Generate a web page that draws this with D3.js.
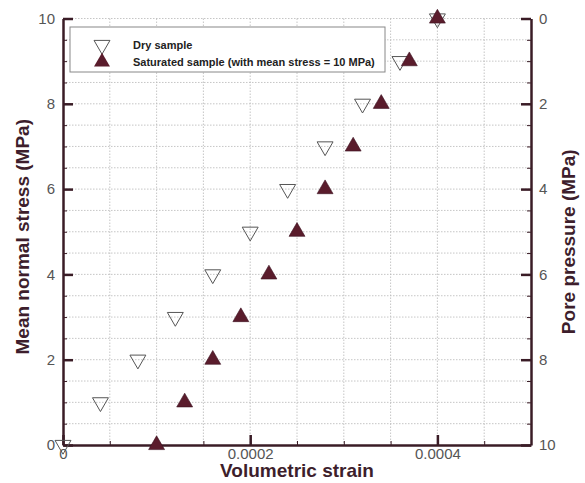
<!DOCTYPE html>
<meta charset="utf-8">
<style>
body { margin: 0; background: #fff; }
.grid line { stroke: #b8b8b8; stroke-width: 0.8; stroke-dasharray: 1.5,1.5; }
.tick text { font-family: "Liberation Sans", Arial, sans-serif; font-size: 15px; fill: #555; }
.axis path, .axis line { stroke: #3a1c26; }
.lab { font-family: "Liberation Sans", Arial, sans-serif; font-weight: bold; font-size: 19px; fill: #3d1e2c; }
.leg { font-family: "Liberation Sans", Arial, sans-serif; font-weight: bold; font-size: 11px; fill: #222; }
</style>
<svg width="585" height="483"></svg>
<script src="https://d3js.org/d3.v7.min.js"></script>
<script>

// mean normal stress (MPa)
var stress = [0, 1, 2, 3, 4, 5, 6, 7, 8, 9, 10];
// volumetric strain
var dryStrain = [0, 0.00004, 0.00008, 0.00012, 0.00016, 0.0002, 0.00024, 0.00028, 0.00032, 0.00036, 0.0004];
var satStrain = [0.0001, 0.00013, 0.00016, 0.00019, 0.00022, 0.00025, 0.00028, 0.00031, 0.00034, 0.00037, 0.0004];
var xTicks = [0, 0.0002, 0.0004];
var yTicks = [0, 2, 4, 6, 8, 10];
var legendLabels = ["Dry sample", "Saturated sample (with mean stress =  10 MPa)"];

var svg = d3.select("svg"),
    margin = {top: 18.5, right: 54, bottom: 38, left: 63},
    width = 585 - margin.left - margin.right,
    height = 483 - margin.top - margin.bottom;

var x = d3.scaleLinear().domain([0, 0.0005]).range([0, width]),
    y = d3.scaleLinear().domain([0, 10]).range([height, 0]),
    yp = d3.scaleLinear().domain([0, 10]).range([0, height]);

var g = svg.append("g")
    .attr("transform", "translate(" + margin.left + "," + margin.top + ")");

// dotted grid
var grid = g.append("g").attr("class", "grid");
grid.selectAll(".gx").data(d3.range(1, 10).map(function(i) { return i * 0.00005; }))
  .enter().append("line")
    .attr("x1", function(d) { return x(d); }).attr("x2", function(d) { return x(d); })
    .attr("y1", 0).attr("y2", height);
grid.selectAll(".gy").data(d3.range(1, 21).map(function(i) { return i * 0.5; }))
  .enter().append("line")
    .attr("y1", function(d) { return y(d); }).attr("y2", function(d) { return y(d); })
    .attr("x1", 0).attr("x2", width);

// minor ticks
var minorX = d3.range(0, 11).map(function(i) { return i * 0.00005; }),
    minorY = d3.range(0, 21).map(function(i) { return i * 0.5; });

g.append("g").attr("class", "axis")
    .attr("transform", "translate(0," + height + ")")
    .call(d3.axisTop(x).tickValues(minorX).tickSize(4).tickFormat(""))
    .select(".domain").remove();
g.append("g").attr("class", "axis")
    .call(d3.axisRight(y).tickValues(minorY).tickSize(4).tickFormat(""))
    .select(".domain").remove();
g.append("g").attr("class", "axis")
    .attr("transform", "translate(" + width + ",0)")
    .call(d3.axisLeft(yp).tickValues(minorY).tickSize(4).tickFormat(""))
    .select(".domain").remove();

// x axis
var xa = g.append("g").attr("class", "axis")
    .attr("transform", "translate(0," + height + ")")
    .call(d3.axisBottom(x).tickValues(xTicks).tickSizeInner(-10).tickSizeOuter(0).tickPadding(3)
      .tickFormat(function(d) { return d === 0 ? "0" : d.toFixed(4); }));
xa.select(".domain").attr("stroke-width", 2.5);
xa.selectAll(".tick line").attr("stroke-width", 2.5);

// left axis
var ya = g.append("g").attr("class", "axis")
    .call(d3.axisLeft(y).tickValues(yTicks).tickSizeInner(-10).tickSizeOuter(0).tickPadding(8));
ya.select(".domain").attr("stroke-width", 2.5);
ya.selectAll(".tick line").attr("stroke-width", 2.5);

// right axis (pore pressure)
var ra = g.append("g").attr("class", "axis")
    .attr("transform", "translate(" + width + ",0)")
    .call(d3.axisRight(yp).tickValues(yTicks).tickSizeInner(-10).tickSizeOuter(0).tickPadding(8));
ra.select(".domain").attr("stroke-width", 2.5);
ra.selectAll(".tick line").attr("stroke-width", 2.5);

// axis titles
svg.append("text").attr("class", "lab")
    .attr("x", margin.left + x(0.00025)).attr("y", 477)
    .attr("text-anchor", "middle").text("Volumetric strain");
svg.append("text").attr("class", "lab")
    .attr("transform", "translate(29," + (margin.top + height / 2 + 5) + ") rotate(-90)")
    .attr("text-anchor", "middle").text("Mean normal stress (MPa)");
svg.append("text").attr("class", "lab")
    .attr("transform", "translate(575," + (margin.top + height / 2 + 10) + ") rotate(-90)")
    .attr("text-anchor", "middle").text("Pore pressure (MPa)");

var tri = d3.symbol().type(d3.symbolTriangle).size(110);

// dry sample: open down triangles
g.selectAll(".dry").data(stress)
  .enter().append("path")
    .attr("class", "dry")
    .attr("d", tri)
    .attr("transform", function(d, i) { return "translate(" + x(dryStrain[i]) + "," + y(d) + ") rotate(180)"; })
    .attr("fill", "#fff").attr("fill-opacity", 0)
    .attr("stroke", "#555").attr("stroke-width", 1);

// saturated sample: filled up triangles
g.selectAll(".sat").data(stress)
  .enter().append("path")
    .attr("class", "sat")
    .attr("d", tri)
    .attr("transform", function(d, i) { return "translate(" + x(satStrain[i]) + "," + y(d) + ")"; })
    .attr("fill", "#5a1c2c").attr("stroke", "#3a1020").attr("stroke-width", 0.6);

// legend
var leg = svg.append("g").attr("transform", "translate(70,27)");
leg.append("rect").attr("width", 315).attr("height", 45)
    .attr("fill", "#fff").attr("stroke", "#888").attr("stroke-width", 1);
leg.append("path").attr("d", tri).attr("transform", "translate(32,18) rotate(180)")
    .attr("fill", "none").attr("stroke", "#555");
leg.append("path").attr("d", tri).attr("transform", "translate(32,35)")
    .attr("fill", "#5a1c2c");
leg.selectAll(".leg").data(legendLabels)
  .enter().append("text")
    .attr("class", "leg")
    .attr("x", 63).attr("y", function(d, i) { return 22 + i * 17; })
    .text(function(d) { return d; });

</script>
